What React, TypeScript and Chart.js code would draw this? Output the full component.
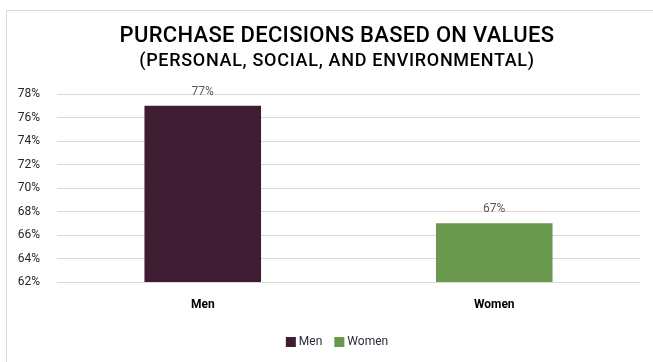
import React, { useEffect, useRef } from "react";
import { Chart, registerables } from "chart.js";

Chart.register(...registerables);

const categories = ["Men", "Women"];
const values = [77, 67];
const barColors = ["#3e1c32", "#6a994e"];
const yMin = 62;
const yMax = 78;
const yStep = 2;
const titleLine1 = "PURCHASE DECISIONS BASED ON VALUES";
const titleLine2 = "(PERSONAL, SOCIAL, AND ENVIRONMENTAL)";

const FONT = "Roboto, 'Noto Sans', sans-serif";

const decorPlugin = {
  id: "decor",
  afterDraw(chart: any) {
    const ctx = chart.ctx;
    const w = chart.width;
    ctx.save();
    // titles
    ctx.fillStyle = "#000000";
    ctx.textAlign = "center";
    ctx.textBaseline = "middle";
    ctx.font = `500 22px ${FONT}`;
    (ctx as any).letterSpacing = "0.3px";
    ctx.fillText(titleLine1, w / 2, 25);
    ctx.font = `500 18px ${FONT}`;
    (ctx as any).letterSpacing = "0.7px";
    ctx.fillText(titleLine2, w / 2, 50);
    (ctx as any).letterSpacing = "0px";

    // data labels
    const meta = chart.getDatasetMeta(0);
    ctx.font = `12px ${FONT}`;
    ctx.fillStyle = "#595959";
    ctx.textBaseline = "bottom";
    meta.data.forEach((bar: any, i: number) => {
      ctx.fillText(values[i] + "%", bar.x, bar.y - 8);
    });

    // legend
    ctx.font = `12px ${FONT}`;
    ctx.textAlign = "left";
    ctx.textBaseline = "middle";
    const items = categories.map((c) => ({ c, tw: ctx.measureText(c).width }));
    const box = 10;
    const gap = 3;
    const sep = 12;
    const total = items.reduce((s, it) => s + box + gap + it.tw, 0) + sep * (items.length - 1);
    let x = w / 2 - total / 2;
    const y = 331;
    items.forEach((it, i) => {
      ctx.fillStyle = barColors[i];
      ctx.fillRect(x, y - box / 2, box, box);
      x += box + gap;
      ctx.fillStyle = "#2b2b3b";
      ctx.fillText(it.c, x, y);
      x += it.tw + sep;
    });
    ctx.restore();
  },
};

export default function App() {
  const ref = useRef<HTMLCanvasElement | null>(null);
  useEffect(() => {
    if (!ref.current) return;
    const chart = new Chart(ref.current, {
      type: "bar",
      data: {
        labels: categories,
        datasets: [
          {
            label: "Share",
            data: values,
            backgroundColor: barColors,
            borderWidth: 0,
            categoryPercentage: 1,
            barPercentage: 0.4,
          },
        ],
      },
      options: {
        animation: false,
        responsive: false,
        maintainAspectRatio: false,
        layout: { padding: { left: 0, right: 27, top: 83, bottom: 49 } },
        plugins: {
          legend: { display: false },
          title: { display: false },
          tooltip: { enabled: false },
        },
        scales: {
          x: {
            grid: { display: false, drawTicks: false },
            border: { display: false },
            ticks: {
              padding: 16,
              color: "#000000",
              font: { family: FONT, size: 12, weight: "bold" },
            },
            afterFit: (s: any) => {
              s.height = 40;
            },
          },
          y: {
            min: yMin,
            max: yMax,
            grid: { color: "#d9d9d9", lineWidth: 1, drawTicks: false },
            border: { display: false },
            ticks: {
              stepSize: yStep,
              padding: 17,
              color: "#262626",
              font: { family: FONT, size: 12 },
              callback: (v: any) => v + "%",
            },
            afterFit: (s: any) => {
              s.width = 50;
            },
          },
        },
      },
      plugins: [decorPlugin],
    } as any);
    return () => chart.destroy();
  }, []);
  return (
    <div
      style={{
        position: "fixed",
        left: 6,
        top: 10,
        width: 660,
        height: 360,
        border: "1px solid #d9d9d9",
        background: "#ffffff",
      }}
    >
      <canvas ref={ref} width={660} height={360} style={{ display: "block", width: 660, height: 360 }} />
    </div>
  );
}
